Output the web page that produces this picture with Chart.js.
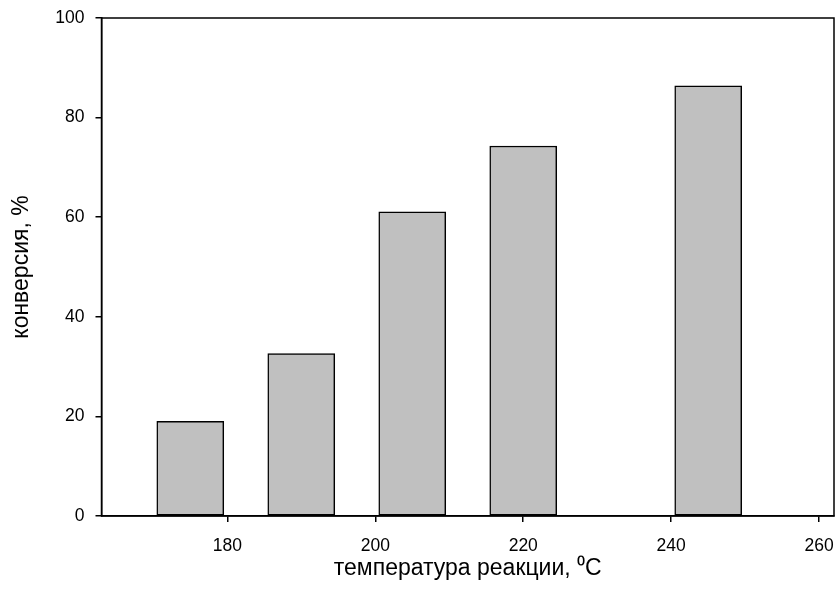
<!DOCTYPE html>
<html>
<head>
<meta charset="utf-8">
<script src="https://cdn.jsdelivr.net/npm/chart.js@4/dist/chart.umd.min.js"></script>
<style>
  html, body { margin: 0; padding: 0; background: #fff; }
  #wrap { width: 838px; height: 606px; }
</style>
</head>
<body>
<div id="wrap"><canvas id="chart"></canvas></div>
<script>
// температура, °C
const temperatures = [175, 190, 205, 220, 245];
// конверсия, %
const conversion = [19.0, 32.6, 61.1, 74.3, 86.4];
const xTickValues = [180, 200, 220, 240, 260];
const yTickValues = [0, 20, 40, 60, 80, 100];

const points = temperatures.map((t, i) => ({ x: t, y: conversion[i] }));
const fontFamily = "'Liberation Sans', Arial, sans-serif";

// рамка вокруг области графика
const frame = {
    id: 'frame',
    afterDraw(chart) {
        const a = chart.chartArea;
        const ctx = chart.ctx;
        ctx.save();
        ctx.strokeStyle = '#000';
        ctx.lineWidth = 1.5;
        ctx.strokeRect(a.left, a.top, a.right - a.left, a.bottom - a.top);
        ctx.restore();
    }
};

new Chart(document.getElementById('chart').getContext('2d'), {
    type: 'bar',
    data: {
        datasets: [{
            data: points,
            backgroundColor: '#c0c0c0',
            borderColor: '#000',
            borderWidth: 1.5,
            borderSkipped: false,
            barThickness: 67
        }]
    },
    options: {
        responsive: true,
        maintainAspectRatio: false,
        animation: false,
        layout: { padding: { top: 18, right: 4, left: 0, bottom: 0 } },
        plugins: { legend: { display: false }, tooltip: { enabled: false } },
        scales: {
            x: {
                type: 'linear',
                min: 163,
                max: 262,
                offset: false,
                afterBuildTicks: s => { s.ticks = xTickValues.map(v => ({ value: v })); },
                afterFit: s => { s.height = 90; s.paddingLeft = 0; s.paddingRight = 0; },
                grid: { offset: false, drawOnChartArea: false, tickLength: 6, color: '#000', lineWidth: 1.5 },
                border: { color: '#000', width: 1.5 },
                ticks: { color: '#000', padding: 14, maxRotation: 0, font: { family: fontFamily, size: 17.5 } },
                title: {
                    display: true,
                    text: 'температура реакции, ⁰C',
                    color: '#000',
                    padding: { top: 0, bottom: 24 },
                    font: { family: fontFamily, size: 23 }
                }
            },
            y: {
                min: 0,
                max: 100,
                afterBuildTicks: s => { s.ticks = yTickValues.map(v => ({ value: v })); },
                afterFit: s => { s.width = 101.5; s.paddingTop = 0; s.paddingBottom = 0; },
                grid: { drawOnChartArea: false, tickLength: 6, color: '#000', lineWidth: 1.5 },
                border: { color: '#000', width: 1.5 },
                ticks: { color: '#000', padding: 11, font: { family: fontFamily, size: 17.5 } },
                title: {
                    display: true,
                    text: 'конверсия, %',
                    color: '#000',
                    padding: { top: 8, bottom: 0 },
                    font: { family: fontFamily, size: 23 }
                }
            }
        }
    },
    plugins: [frame]
});
</script>
</body>
</html>
